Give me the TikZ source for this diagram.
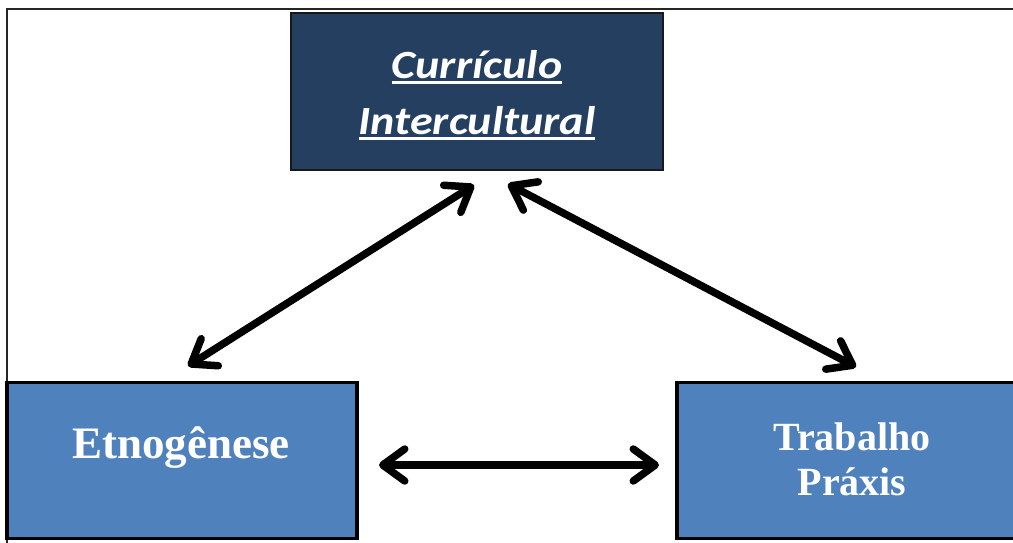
\documentclass[tikz,border=0pt]{standalone}
\usepackage{fontspec}
\usepackage{graphicx}
\newfontfamily\calfont{Carlito}
\newfontfamily\serfont{Liberation Serif}
\usetikzlibrary{arrows.meta}
\definecolor{navyfill}{HTML}{243F60}
\definecolor{midblue}{HTML}{4F81BD}
\newcommand\ulword[1]{\setbox0\hbox{#1}\rlap{\rule[-6pt]{\wd0}{2.8pt}}\box0}
\newcommand\widetxt[1]{\scalebox{1.15}[1]{#1}}
\tikzset{
  topbox/.style={draw=black!90, line width=2.5pt, fill=navyfill, inner sep=0pt,
    minimum width=372pt, minimum height=157pt},
  lowbox/.style={draw=black, line width=3.5pt, fill=midblue, inner sep=0pt,
    minimum width=350pt, minimum height=156pt},
  toptext/.style={text=white, inner sep=0pt, anchor=base,
    font=\calfont\bfseries\itshape\fontsize{40}{48}\selectfont},
  lowtext/.style={text=white, inner sep=0pt, anchor=base,
    font=\serfont\bfseries\fontsize{45}{50}\selectfont},
  lowtext2/.style={text=white, inner sep=0pt, anchor=base,
    font=\serfont\bfseries\fontsize{40}{45}\selectfont},
  link/.style={line width=7.5pt, black,
    {Straight Barb[length=22pt,width=32pt,line cap=round,line join=round]}-{Straight Barb[length=22pt,width=32pt,line cap=round,line join=round]}}
}
\begin{document}
\begin{tikzpicture}[x=1pt,y=-1pt]
\useasboundingbox (0,0) rectangle (1013,543);
\clip (0,0) rectangle (1013,543);
\fill[white] (0,0) rectangle (1013,543);
\draw[line width=2.2pt, black!85] (7,9) rectangle (1040,580);
% boxes
\node[topbox] (cur) at (477,91.5) {};
\node[lowbox] (etn) at (182,460.5) {};
\node[lowbox] (tra) at (852,460.5) {};
% texts
\node[toptext] (cur1) at (477,78) {\widetxt{\ulword{Currículo}}};
\node[toptext] (cur2) at (477,134) {\widetxt{\ulword{Intercultural}}};
\node[lowtext] (etn1) at (181,458) {Etnogênese};
\node[lowtext2] (tra1) at (852,450) {Trabalho};
\node[lowtext2] (tra2) at (852,495) {Práxis};
% connector ends
\coordinate (l1) at (188,366);
\coordinate (l2) at (474,185);
\coordinate (r1) at (508,184);
\coordinate (r2) at (856,367);
\coordinate (h1) at (379,465);
\coordinate (h2) at (659,465);
\draw[link] (l1) -- (l2);
\draw[link] (r1) -- (r2);
\draw[link] (h1) -- (h2);
\end{tikzpicture}
\end{document}
